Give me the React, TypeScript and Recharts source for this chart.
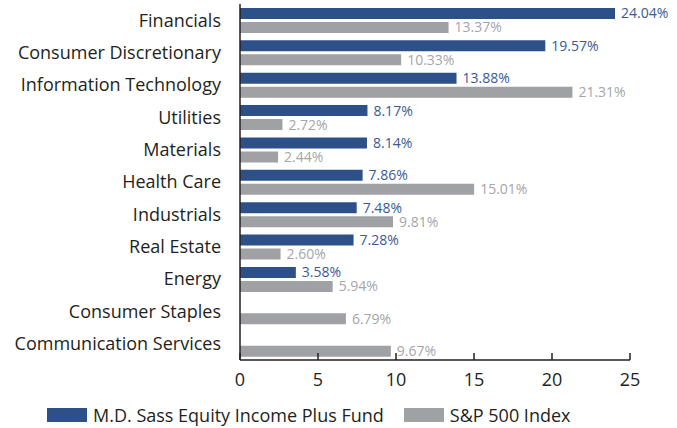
import { BarChart, Bar, XAxis, YAxis, Legend, LabelList } from 'recharts'

const sectors = [
  'Financials',
  'Consumer Discretionary',
  'Information Technology',
  'Utilities',
  'Materials',
  'Health Care',
  'Industrials',
  'Real Estate',
  'Energy',
  'Consumer Staples',
  'Communication Services',
]
const fund = [24.04, 19.57, 13.88, 8.17, 8.14, 7.86, 7.48, 7.28, 3.58, null, null]
const index = [13.37, 10.33, 21.31, 2.72, 2.44, 15.01, 9.81, 2.6, 5.94, 6.79, 9.67]
const xTicks = [0, 5, 10, 15, 20, 25]

const FUND_NAME = 'M.D. Sass Equity Income Plus Fund'
const INDEX_NAME = 'S&P 500 Index'
const BLUE = '#2d5088'
const GRAY = '#a0a1a4'
const INK = '#231f20'
const FONT = '"Open Sans", sans-serif'

const data = sectors.map((s, i) => ({ sector: s, fund: fund[i], index: index[i] }))

const pct = (v: any) => (v == null ? '' : `${Number(v).toFixed(2)}%`)

function XTick({ x, y, payload }: any) {
  return (
    <g>
      <line x1={x} x2={x} y1={y - 7} y2={y} stroke={INK} strokeWidth={1.5} />
      <text x={x} y={y + 26} textAnchor="middle" fontSize={18} fill={INK} fontFamily={FONT}>
        {payload.value}
      </text>
    </g>
  )
}

function LegendBox() {
  const items = [
    { name: FUND_NAME, color: BLUE },
    { name: INDEX_NAME, color: GRAY },
  ]
  return (
    <div style={{ height: 38, display: 'flex', alignItems: 'flex-end', paddingLeft: 47, fontFamily: FONT }}>
      {items.map(it => (
        <div key={it.name} style={{ display: 'flex', alignItems: 'center', marginRight: 20, height: 26 }}>
          <span style={{ width: 40, height: 14, background: it.color, display: 'inline-block', marginRight: 6 }} />
          <span style={{ fontSize: 18, lineHeight: '25px', color: INK }}>{it.name}</span>
        </div>
      ))}
    </div>
  )
}

export default function App() {
  return (
    <div style={{ position: 'absolute', left: 0, top: 0, background: '#fff' }}>
      <BarChart
        width={677}
        height={428}
        data={data}
        layout="vertical"
        margin={{ top: 4, right: 47, bottom: 0, left: 0 }}
        barSize={11}
        barGap={3}
      >
        <XAxis
          type="number"
          domain={[0, 25]}
          ticks={xTicks}
          height={30}
          tickSize={0}
          tickMargin={0}
          tickLine={false}
          tick={<XTick />}
          axisLine={{ stroke: INK, strokeWidth: 1.5 }}
        />
        <YAxis
          type="category"
          dataKey="sector"
          width={240}
          tickLine={false}
          tickSize={0}
          tickMargin={19}
          axisLine={{ stroke: INK, strokeWidth: 1.5 }}
          tick={{ fontSize: 18, fill: INK, fontFamily: FONT }}
          interval={0}
        />
        <Legend verticalAlign="bottom" content={<LegendBox />} height={38} />
        <Bar dataKey="fund" name={FUND_NAME} fill={BLUE} isAnimationActive={false}>
          <LabelList dataKey="fund" position="right" offset={6} formatter={pct}
            style={{ fontSize: 14, fill: '#3a5a92', fontFamily: FONT }} />
        </Bar>
        <Bar dataKey="index" name={INDEX_NAME} fill={GRAY} isAnimationActive={false}>
          <LabelList dataKey="index" position="right" offset={6} formatter={pct}
            style={{ fontSize: 14, fill: '#a5a5a8', fontFamily: FONT }} />
        </Bar>
      </BarChart>
    </div>
  )
}
